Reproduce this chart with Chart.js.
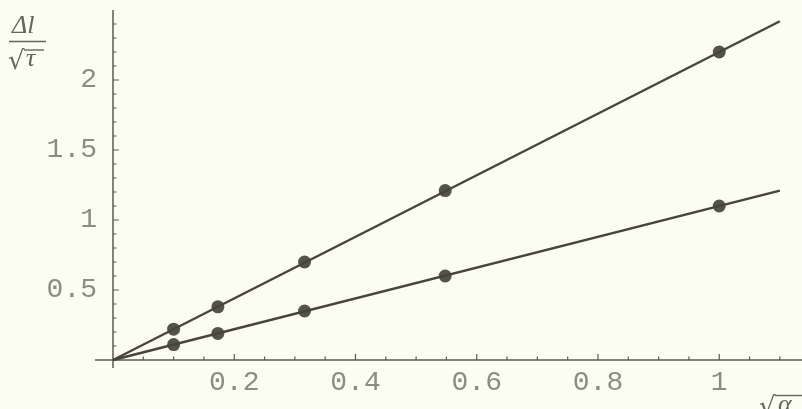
<!DOCTYPE html>
<html><head><meta charset="utf-8">
<script src="https://cdn.jsdelivr.net/npm/chart.js@4.4.1/dist/chart.umd.min.js"></script>
<style>html,body{margin:0;padding:0;background:#fbfcf2;} #wrap{width:802px;height:409px;position:relative;background:#fbfcf2}</style>
</head><body><div id="wrap"><canvas id="c" width="802" height="409"></canvas></div>
<script>
// data: x = sqrt(alpha)
const sqrtAlpha   = [0.1, 0.173, 0.316, 0.548, 1.0];
const upperValues = [0.22, 0.38, 0.70, 1.21, 2.20];
const lowerValues = [0.11, 0.19, 0.35, 0.60, 1.10];
// fitted straight lines (end points)
const lineX     = [0, 1.1];
const upperLine = [0, 2.42];
const lowerLine = [0, 1.21];
// ticks
const xTickValues = [0.2, 0.4, 0.6, 0.8, 1];
const xTickLabels = ['0.2', '0.4', '0.6', '0.8', '1'];
const yTickValues = [0.5, 1, 1.5, 2];
const yTickLabels = ['0.5', '1', '1.5', '2'];
const xMinorStep = 0.05;
const yMinorStep = 0.1;

const LINE = '#48443a';
const DOT = '#53534a';
const AXIS = '#5c5c52';
const LABEL = '#8c8c84';

const toPts = (xs, ys) => xs.map((x, i) => ({x: x, y: ys[i]}));

const axesPlugin = {
  id: 'mathAxes',
  beforeDatasetsDraw(chart) {
    const ctx = chart.ctx, xs = chart.scales.x, ys = chart.scales.y;
    const x0 = xs.getPixelForValue(0), y0 = ys.getPixelForValue(0);
    ctx.save();
    ctx.strokeStyle = AXIS;
    ctx.lineWidth = 1.5;
    ctx.beginPath();
    ctx.moveTo(95, y0); ctx.lineTo(chart.width, y0);
    ctx.moveTo(x0, 368); ctx.lineTo(x0, 10);
    ctx.stroke();
    ctx.lineWidth = 1.2;
    ctx.beginPath();
    for (let i = 1; i * xMinorStep <= xs.max + 1e-9; i++) {
      const v = i * xMinorStep, p = xs.getPixelForValue(v);
      const major = i % 4 === 0;
      ctx.moveTo(p, y0); ctx.lineTo(p, y0 - (major ? 6 : 3.5));
    }
    for (let i = 1; i * yMinorStep <= ys.max + 1e-9; i++) {
      const v = i * yMinorStep, p = ys.getPixelForValue(v);
      const major = i % 5 === 0;
      ctx.moveTo(x0, p); ctx.lineTo(x0 + (major ? 6 : 3.5), p);
    }
    ctx.stroke();
    ctx.restore();
  },
  afterDraw(chart) {
    const ctx = chart.ctx;
    ctx.save();
    ctx.fillStyle = '#66665e';
    ctx.strokeStyle = '#66665e';
    ctx.textBaseline = 'alphabetic';
    ctx.textAlign = 'left';
    // y axis label: Δl / √τ
    ctx.font = 'italic 26px "Liberation Serif"';
    ctx.fillText('Δl', 12, 33);
    ctx.lineWidth = 1.4;
    ctx.beginPath(); ctx.moveTo(9, 41.5); ctx.lineTo(46, 41.5); ctx.stroke();
    ctx.font = '26px "DejaVu Serif"';
    ctx.fillText('√', 8, 69);
    ctx.font = 'italic 26px "Liberation Serif"';
    ctx.fillText('τ', 26, 66);
    ctx.lineWidth = 1.4;
    ctx.beginPath(); ctx.moveTo(24, 50); ctx.lineTo(44, 50); ctx.stroke();
    // x axis label: √α
    ctx.font = '26px "DejaVu Serif"';
    ctx.fillText('√', 759, 415);
    ctx.font = 'italic 26px "Liberation Serif"';
    ctx.fillText('α', 778, 412);
    ctx.beginPath(); ctx.moveTo(775, 395.5); ctx.lineTo(802, 395.5); ctx.stroke();
    ctx.restore();
  }
};

new Chart(document.getElementById('c'), {
  type: 'scatter',
  data: {
    datasets: [
      {type: 'line', data: toPts(lineX, upperLine), borderColor: LINE, borderWidth: 2.4, pointRadius: 0, fill: false, clip: false},
      {type: 'line', data: toPts(lineX, lowerLine), borderColor: LINE, borderWidth: 2.4, pointRadius: 0, fill: false, clip: false},
      {data: toPts(sqrtAlpha, upperValues), backgroundColor: DOT, borderColor: DOT, pointRadius: 6.5, borderWidth: 0, clip: false},
      {data: toPts(sqrtAlpha, lowerValues), backgroundColor: DOT, borderColor: DOT, pointRadius: 6.5, borderWidth: 0, clip: false}
    ]
  },
  options: {
    responsive: false,
    animation: false,
    events: [],
    layout: {padding: {top: 12, left: 0, right: 0, bottom: 0}},
    plugins: {legend: {display: false}, tooltip: {enabled: false}, title: {display: false}},
    scales: {
      x: {
        type: 'linear', min: 0, max: (802 - 113) / 612,
        grid: {display: false, drawTicks: false}, border: {display: false},
        afterBuildTicks: s => { s.ticks = xTickValues.map(v => ({value: v})); },
        afterFit: s => { s.height = 49; s.paddingLeft = 0; s.paddingRight = 0; },
        ticks: {
          autoSkip: false, maxRotation: 0, padding: 8.5, color: LABEL,
          font: {family: '"Liberation Mono"', size: 28, lineHeight: 1},
          callback: (v) => xTickLabels[xTickValues.indexOf(v)]
        }
      },
      y: {
        type: 'linear', min: 0, max: (360 - 12) / 140,
        grid: {display: false, drawTicks: false}, border: {display: false},
        afterBuildTicks: s => { s.ticks = yTickValues.map(v => ({value: v})); },
        afterFit: s => { s.width = 113; s.paddingTop = 0; s.paddingBottom = 0; },
        ticks: {
          autoSkip: false, padding: 16, color: LABEL,
          font: {family: '"Liberation Mono"', size: 28, lineHeight: 1},
          callback: (v) => yTickLabels[yTickValues.indexOf(v)]
        }
      }
    }
  },
  plugins: [axesPlugin]
});
</script>
</body></html>
